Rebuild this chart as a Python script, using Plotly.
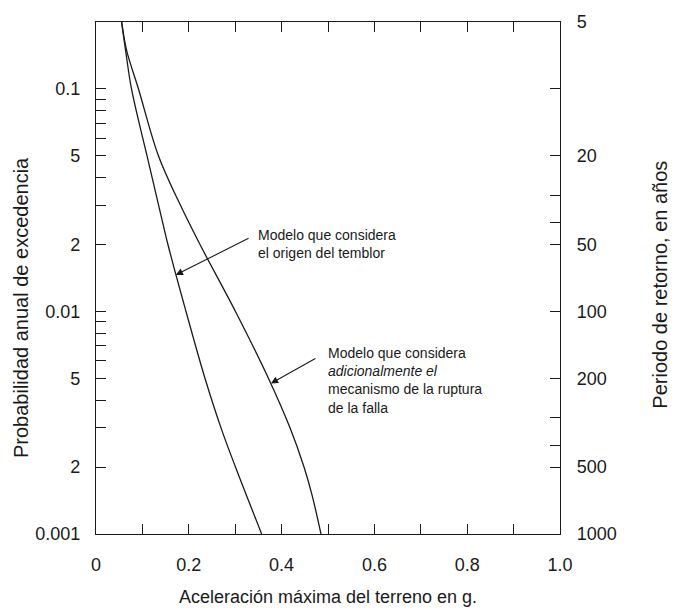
import math
import plotly.graph_objects as go

# ---- data ----
accel_origen = [0.055, 0.0636, 0.0765, 0.110, 0.135, 0.155, 0.194, 0.235, 0.2694, 0.3006, 0.357]
prob_origen = [0.2, 0.15, 0.10, 0.05, 0.03, 0.02, 0.01, 0.005, 0.003, 0.002, 0.001]

accel_mecanismo = [0.0554, 0.0657, 0.0916, 0.1347, 0.1821, 0.2241, 0.3006, 0.3718,
                   0.4181, 0.4483, 0.4655, 0.4849]
prob_mecanismo = [0.2, 0.15, 0.10, 0.05, 0.03, 0.02, 0.01, 0.005, 0.003, 0.002, 0.0015, 0.001]

x_ticks = [0, 0.1, 0.2, 0.3, 0.4, 0.5, 0.6, 0.7, 0.8, 0.9, 1.0]
x_labels = ["0", "", "0.2", "", "0.4", "", "0.6", "", "0.8", "", "1.0"]

prob_ticks = [0.1, 0.09, 0.08, 0.07, 0.06, 0.05, 0.04, 0.03, 0.02,
              0.01, 0.009, 0.008, 0.007, 0.006, 0.005, 0.004, 0.003, 0.002, 0.001]
prob_labels = ["0.1", "", "", "", "", "5", "", "", "2",
               "0.01", "", "", "", "", "5", "", "", "2", "0.001"]

period_ticks = [5, 10, 20, 30, 40, 50, 100, 200, 300, 400, 500, 1000]
period_labels = ["5", "", "20", "", "", "50", "100", "200", "", "", "500", "1000"]

y_min, y_max = 0.001, 0.2

FONT = "Liberation Sans, Arial, Helvetica, sans-serif"
INK = "#1a1a1a"

fig = go.Figure()
fig.add_trace(go.Scatter(x=accel_origen, y=prob_origen, mode="lines",
                         line=dict(color=INK, width=1.3, shape="spline", smoothing=1.0),
                         showlegend=False, hoverinfo="skip"))
fig.add_trace(go.Scatter(x=accel_mecanismo, y=prob_mecanismo, mode="lines",
                         line=dict(color=INK, width=1.3, shape="spline", smoothing=1.0),
                         showlegend=False, hoverinfo="skip"))
# invisible trace so the right-hand (return period) axis is drawn
fig.add_trace(go.Scatter(x=accel_origen, y=prob_origen, mode="lines", yaxis="y2",
                         line=dict(width=0), opacity=0, showlegend=False, hoverinfo="skip"))

axis_common = dict(showgrid=False, zeroline=False, showline=True, linecolor=INK, linewidth=1.3,
                   ticks="inside", tickcolor=INK, tickwidth=1.2, ticklen=10,
                   tickfont=dict(family=FONT, size=18, color=INK))

fig.update_layout(
    width=679, height=615,
    margin=dict(l=96, r=119, t=17, b=72),
    paper_bgcolor="white", plot_bgcolor="white",
    font=dict(family=FONT, color=INK),
    xaxis=dict(range=[0, 1], tickvals=x_ticks, ticktext=x_labels, mirror="ticks",
               ticklabelstandoff=14,
               title=dict(text="Aceleración máxima del terreno en g.",
                          font=dict(family=FONT, size=18, color=INK), standoff=16),
               **axis_common),
    yaxis=dict(type="log", range=[math.log10(y_min), math.log10(y_max)],
               tickvals=prob_ticks, ticktext=prob_labels, ticklabelstandoff=11,
               **axis_common),
    yaxis2=dict(type="log", overlaying="y", side="right",
                range=[math.log10(y_min), math.log10(y_max)],
                tickvals=[1.0 / t for t in period_ticks], ticktext=period_labels,
                ticklabelstandoff=12, **axis_common),
)

ann_font = dict(family=FONT, size=14, color=INK)
arrow_style = dict(showarrow=True, arrowhead=2, arrowsize=1.3, arrowwidth=1.1,
                   arrowcolor=INK, text="", xref="x", yref="y", axref="x", ayref="y")

# axis titles (rotated)
fig.add_annotation(text="Probabilidad anual de excedencia", textangle=-90,
                   xref="paper", yref="paper", x=-0.162, y=0.443,
                   xanchor="center", yanchor="middle", showarrow=False,
                   font=dict(family=FONT, size=20, color=INK))
fig.add_annotation(text="Periodo de retorno, en años", textangle=-90,
                   xref="paper", yref="paper", x=1.2155, y=0.487,
                   xanchor="center", yanchor="middle", showarrow=False,
                   font=dict(family=FONT, size=20, color=INK))

# callout texts
fig.add_annotation(text="Modelo que considera<br>el origen del temblor",
                   xref="x", yref="y", x=0.345, y=math.log10(0.0245),
                   xanchor="left", yanchor="top", align="left", showarrow=False,
                   font=ann_font)
fig.add_annotation(text="Modelo que considera<br><i>adicionalmente el</i><br>"
                        "mecanismo de la ruptura<br>de la falla",
                   xref="x", yref="y", x=0.495, y=math.log10(0.0072),
                   xanchor="left", yanchor="top", align="left", showarrow=False,
                   font=ann_font)
# arrows
fig.add_annotation(x=0.172, y=math.log10(0.0146), ax=0.332, ay=math.log10(0.0215),
                   **arrow_style)
fig.add_annotation(x=0.377, y=math.log10(0.00475), ax=0.476, ay=math.log10(0.0062),
                   **arrow_style)

fig.write_html("out.html")
